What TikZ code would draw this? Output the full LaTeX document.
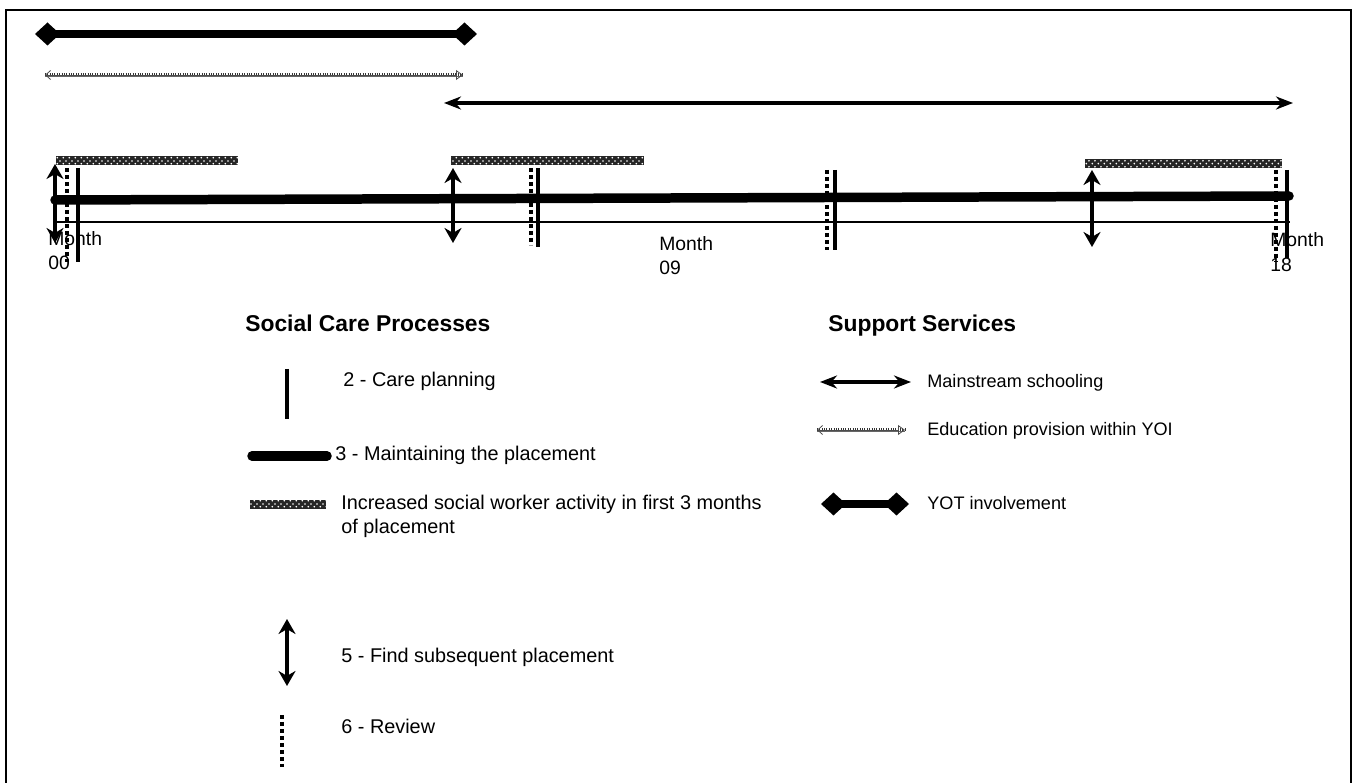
\documentclass[tikz,border=0pt]{standalone}
\usepackage{fontspec}
\setmainfont{Liberation Sans}
\usetikzlibrary{arrows.meta,patterns}

% white dots on a dark ground, used for the social-worker activity bars
\pgfdeclarepatternformonly{weavedots}{\pgfqpoint{0pt}{0pt}}{\pgfqpoint{3.2pt}{3.2pt}}{\pgfqpoint{3.2pt}{3.2pt}}{%
  \pgfpathcircle{\pgfqpoint{0.8pt}{0.8pt}}{0.55pt}%
  \pgfpathcircle{\pgfqpoint{2.4pt}{2.4pt}}{0.55pt}%
  \pgfusepath{fill}}

\begin{document}
\begin{tikzpicture}[x=0.02cm,y=-0.02cm,
  lbl/.style={inner sep=0pt, anchor=base west, font=\fontsize{10.3}{12}\selectfont},
  biglbl/.style={inner sep=0pt, anchor=base west, font=\fontsize{11.3}{13}\selectfont},
  monthlbl/.style={inner sep=0pt, anchor=base west, font=\fontsize{11}{13}\selectfont},
  heading/.style={inner sep=0pt, anchor=base west, font=\fontsize{13}{15}\selectfont\bfseries},
  frameline/.style={line width=0.04cm},
  axisline/.style={line width=0.045cm},
  maintain/.style={line width=0.19cm, line cap=round},
  careline/.style={line width=0.07cm},
  reviewline/.style={line width=0.085cm, dash pattern=on 0.08cm off 0.06cm},
  findarrow/.style={line width=0.08cm, {Stealth[length=0.3cm,width=0.34cm]}-{Stealth[length=0.3cm,width=0.34cm]}},
  schoolarrow/.style={line width=0.075cm, {Stealth[length=0.34cm,width=0.26cm]}-{Stealth[length=0.34cm,width=0.26cm]}},
  yotline/.style={line width=0.15cm, {Diamond[length=0.5cm,width=0.46cm]}-{Diamond[length=0.5cm,width=0.46cm]}},
  activityground/.style={fill=black!85},
  activitydots/.style={pattern=weavedots, pattern color=white},
  edurail/.style={draw=black!60, double=white, double distance=0.06cm, line width=0.45pt},
  edufill/.style={draw=black!80, line width=0.06cm, dash pattern=on 0.45pt off 0.9pt},
  edutips/.style={draw=black!70, line width=0.45pt, {Straight Barb[length=0.1cm,width=0.18cm]}-{Triangle[open,length=0.14cm,width=0.2cm]}},
]
\useasboundingbox (0,0) rectangle (1356,783);

% outer frame (open at the foot of the page)
\draw[frameline] (6,783) -- (6,10) -- (1351,10) -- (1351,783);

% ---- support services along the top ----
\coordinate (yotA) at (35,34);
\coordinate (yotB) at (477,34);
\draw[yotline] (yotA) -- (yotB);

\coordinate (eduA) at (45,75);
\coordinate (eduB) at (463,75);
\draw[edurail] (eduA) -- (eduB);
\draw[edufill] (eduA) -- (eduB);
\draw[edutips] (eduA) -- (eduB);

\coordinate (schA) at (444,103);
\coordinate (schB) at (1293,103);
\draw[schoolarrow] (schA) -- (schB);

% ---- timeline ----
\fill[activityground] (56,156) rectangle (238,165);
\fill[activitydots]   (56,156) rectangle (238,165);
\fill[activityground] (451,156) rectangle (644,165);
\fill[activitydots]   (451,156) rectangle (644,165);
\fill[activityground] (1085,159) rectangle (1282,168);
\fill[activitydots]   (1085,159) rectangle (1282,168);

\coordinate (mainA) at (55,200);
\coordinate (mainB) at (1289,196);
\draw[maintain] (mainA) -- (mainB);

\coordinate (axA) at (55,222);
\coordinate (axB) at (1290,222);
\draw[axisline] (axA) -- (axB);

% care planning
\coordinate (cp1a) at (78,168);   \coordinate (cp1b) at (78,262);
\coordinate (cp2a) at (538,168);  \coordinate (cp2b) at (538,247);
\coordinate (cp3a) at (835,170);  \coordinate (cp3b) at (835,250);
\coordinate (cp4a) at (1287,170); \coordinate (cp4b) at (1287,258);
\draw[careline] (cp1a) -- (cp1b);
\draw[careline] (cp2a) -- (cp2b);
\draw[careline] (cp3a) -- (cp3b);
\draw[careline] (cp4a) -- (cp4b);

% reviews
\coordinate (rv1a) at (67,168);   \coordinate (rv1b) at (67,262);
\coordinate (rv2a) at (531,168);  \coordinate (rv2b) at (531,245);
\coordinate (rv3a) at (827,170);  \coordinate (rv3b) at (827,250);
\coordinate (rv4a) at (1276,170); \coordinate (rv4b) at (1276,262);
\draw[reviewline] (rv1a) -- (rv1b);
\draw[reviewline] (rv2a) -- (rv2b);
\draw[reviewline] (rv3a) -- (rv3b);
\draw[reviewline] (rv4a) -- (rv4b);

% finding subsequent placements
\coordinate (fp1a) at (55,164);   \coordinate (fp1b) at (55,243);
\coordinate (fp2a) at (453,168);  \coordinate (fp2b) at (453,243);
\coordinate (fp3a) at (1092,170); \coordinate (fp3b) at (1092,247);
\draw[findarrow] (fp1a) -- (fp1b);
\draw[findarrow] (fp2a) -- (fp2b);
\draw[findarrow] (fp3a) -- (fp3b);

% month labels
\node[monthlbl] (m00a) at (48,246) {Month};
\node[monthlbl] (m00b) at (48,270) {00};
\node[monthlbl] (m09a) at (659,251) {Month};
\node[monthlbl] (m09b) at (659,275) {09};
\node[monthlbl] (m18a) at (1270,247) {Month};
\node[monthlbl] (m18b) at (1270,272) {18};

% ---- legend: social care processes ----
\node[heading] (hsc) at (245,332) {Social Care Processes};

\coordinate (lgCa) at (287,369); \coordinate (lgCb) at (287,419);
\draw[careline] (lgCa) -- (lgCb);
\node[biglbl] (tCare) at (343,387) {2 - Care planning};

\coordinate (lgMa) at (252,456); \coordinate (lgMb) at (327,456);
\draw[maintain] (lgMa) -- (lgMb);
\node[biglbl] (tMain) at (335,461) {3 - Maintaining the placement};

\fill[activityground] (250,500) rectangle (326,509);
\fill[activitydots]   (250,500) rectangle (326,509);
\node[biglbl] (tAct1) at (341,510) {Increased social worker activity in first 3 months};
\node[biglbl] (tAct2) at (341,534) {of placement};

\coordinate (lgFa) at (287,619); \coordinate (lgFb) at (287,686);
\draw[findarrow] (lgFa) -- (lgFb);
\node[biglbl] (tFind) at (341,663) {5 - Find subsequent placement};

\coordinate (lgRa) at (282,715); \coordinate (lgRb) at (282,767);
\draw[reviewline] (lgRa) -- (lgRb);
\node[biglbl] (tRev) at (341,733) {6 - Review};

% ---- legend: support services ----
\node[heading] (hss) at (828,332) {Support Services};

\coordinate (lgSa) at (820,382); \coordinate (lgSb) at (911,382);
\draw[schoolarrow] (lgSa) -- (lgSb);
\node[lbl] (tSch) at (927,388) {Mainstream schooling};

\coordinate (lgEa) at (817,430); \coordinate (lgEb) at (905,430);
\draw[edurail] (lgEa) -- (lgEb);
\draw[edufill] (lgEa) -- (lgEb);
\draw[edutips] (lgEa) -- (lgEb);
\node[lbl] (tEdu) at (927,436) {Education provision within YOI};

\coordinate (lgYa) at (821,504); \coordinate (lgYb) at (909,504);
\draw[yotline] (lgYa) -- (lgYb);
\node[lbl] (tYot) at (927,510) {YOT involvement};
\end{tikzpicture}
\end{document}
